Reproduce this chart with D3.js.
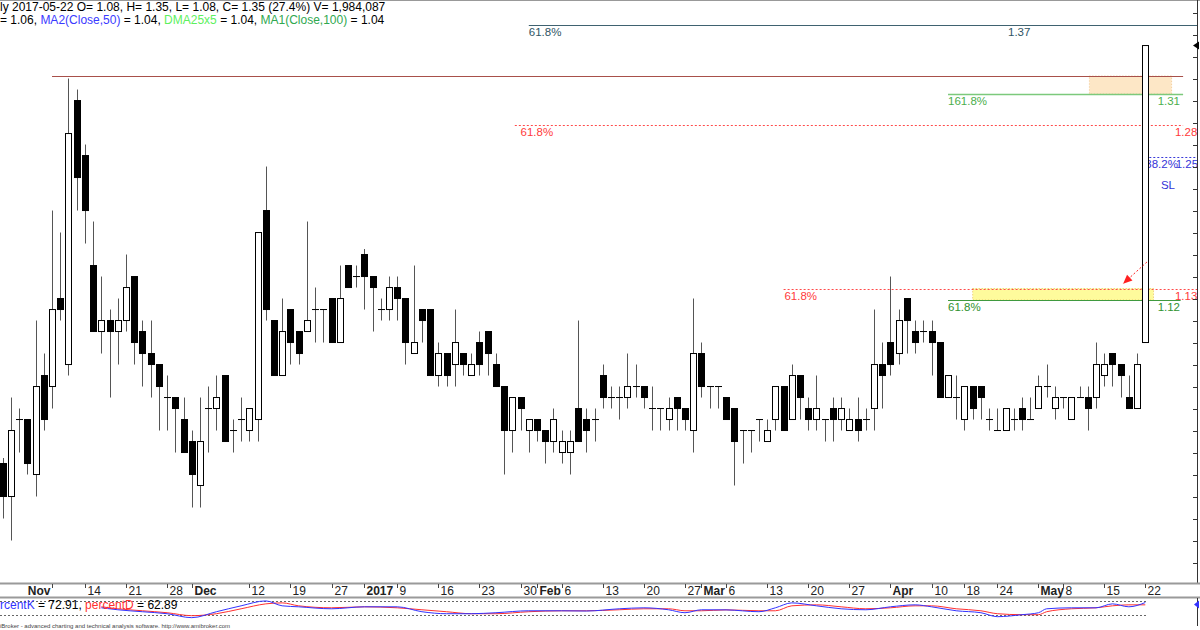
<!DOCTYPE html>
<html><head><meta charset="utf-8">
<script src="https://cdn.jsdelivr.net/npm/d3@7"></script>
<style>html,body{margin:0;padding:0;background:#fff;}svg{display:block;font-family:"Liberation Sans",Arial,sans-serif;}</style>
</head><body>
<svg id="c" width="1200" height="630"></svg>
<script>
// ---- price data (bar index 0..139) ----
const opens  = [0.97,0.94,1.01,1.01,0.96,1.05,1.04,1.12,1.06,1.30,1.25,1.15,1.09,1.10,1.09,1.10,1.14,1.09,1.07,1.06,1.03,1.03,1.01,0.99,0.95,1.02,1.02,1.05,1.00,1.01,1.00,1.01,1.20,1.10,1.05,1.11,1.09,1.09,1.11,1.11,1.12,1.08,1.15,1.14,1.16,1.14,1.11,1.11,1.13,1.12,1.07,1.11,1.11,1.05,1.07,1.06,1.07,1.05,1.08,1.09,1.06,1.04,1.00,1.03,1.00,1.01,1.00,0.99,0.98,0.98,1.02,1.01,1.01,1.05,1.03,1.03,1.03,1.04,1.04,1.02,1.02,1.01,1.03,1.02,1.00,1.07,1.04,1.04,1.03,1.02,1.00,1.00,1.01,0.99,1.01,1.04,1.01,1.05,1.02,1.01,1.01,1.02,1.01,1.00,1.01,1.01,1.02,1.06,1.08,1.07,1.12,1.09,1.09,1.09,1.08,1.03,1.03,1.01,1.04,1.04,1.01,1.00,1.00,1.01,1.02,1.01,1.02,1.04,1.02,1.03,1.01,1.03,1.03,1.03,1.05,1.07,1.06,1.03,1.02,1.08];
const highs  = [0.975,1.03,1.02,1.01,1.10,1.07,1.20,1.18,1.32,1.31,1.26,1.19,1.14,1.11,1.12,1.16,1.14,1.10,1.10,1.06,1.05,1.03,1.03,1.00,1.03,1.04,1.05,1.05,1.01,1.03,1.02,1.18,1.24,1.10,1.12,1.11,1.09,1.19,1.13,1.11,1.12,1.15,1.15,1.15,1.165,1.14,1.12,1.14,1.14,1.12,1.15,1.11,1.11,1.08,1.07,1.11,1.07,1.07,1.09,1.09,1.07,1.04,1.03,1.03,1.01,1.01,1.00,1.02,1.00,1.00,1.10,1.02,1.02,1.06,1.04,1.04,1.07,1.06,1.04,1.04,1.02,1.03,1.03,1.02,1.12,1.08,1.04,1.04,1.03,1.02,1.00,1.00,1.01,1.01,1.04,1.04,1.06,1.05,1.03,1.05,1.01,1.03,1.03,1.02,1.03,1.02,1.11,1.08,1.14,1.11,1.12,1.10,1.10,1.10,1.08,1.05,1.05,1.04,1.04,1.04,1.02,1.02,1.02,1.02,1.03,1.03,1.05,1.06,1.04,1.03,1.03,1.04,1.04,1.08,1.07,1.07,1.06,1.05,1.07,1.35];
const lows   = [0.92,0.90,0.98,0.96,0.94,1.00,1.02,1.10,1.05,1.20,1.17,1.09,1.07,1.03,1.06,1.09,1.06,1.04,1.03,1.00,1.00,0.98,0.98,0.93,0.93,0.98,1.00,0.99,0.98,0.99,0.99,0.99,1.10,1.05,1.05,1.06,1.06,1.09,1.08,1.08,1.08,1.08,1.13,1.13,1.11,1.09,1.10,1.10,1.10,1.06,1.07,1.08,1.05,1.04,1.04,1.04,1.05,1.05,1.05,1.05,1.04,0.96,0.98,1.00,0.98,0.99,0.97,0.98,0.97,0.96,0.99,0.98,0.99,1.02,1.02,1.01,1.02,1.03,1.02,1.00,1.00,1.00,1.00,1.00,0.98,1.03,1.02,1.02,1.01,0.95,0.97,0.98,0.99,0.99,1.00,1.00,1.01,1.01,1.00,1.00,0.99,0.99,1.00,1.00,0.99,1.00,1.00,1.02,1.05,1.06,1.07,1.07,1.08,1.05,1.03,1.03,1.01,1.00,1.01,1.01,1.00,1.00,1.00,1.00,1.00,1.01,1.02,1.03,1.01,1.02,1.01,1.03,1.00,1.02,1.04,1.04,1.03,1.02,1.02,1.08];
const closes = [0.94,1.00,1.01,0.97,1.04,1.01,1.11,1.11,1.27,1.23,1.20,1.09,1.10,1.09,1.10,1.13,1.08,1.07,1.06,1.04,1.03,1.02,0.98,0.96,0.99,1.02,1.03,0.99,1.00,1.01,1.02,1.18,1.11,1.05,1.09,1.08,1.07,1.10,1.11,1.11,1.08,1.12,1.13,1.14,1.14,1.13,1.11,1.13,1.12,1.08,1.08,1.10,1.05,1.07,1.05,1.08,1.06,1.06,1.06,1.07,1.04,1.00,1.03,1.02,1.01,1.00,0.99,1.01,0.99,0.99,0.99,1.00,1.01,1.03,1.03,1.03,1.04,1.04,1.03,1.02,1.02,1.02,1.02,1.01,1.07,1.04,1.04,1.04,1.01,0.99,1.00,1.00,1.01,1.00,1.04,1.00,1.05,1.03,1.01,1.02,1.01,1.01,1.02,1.01,1.00,1.01,1.06,1.05,1.06,1.10,1.10,1.08,1.09,1.08,1.03,1.05,1.03,1.04,1.02,1.03,1.01,1.00,1.02,1.01,1.01,1.01,1.04,1.04,1.03,1.03,1.03,1.03,1.02,1.06,1.06,1.06,1.05,1.02,1.06,1.35];

// ---- date axis ----
const tickIdx    = [6,10,15,20,23,30,35,40,44,48,53,58,63,65,68,73,78,83,85,88,93,98,103,108,113,117,121,126,129,134,139];
const tickLabels = ["Nov","14","21","28","Dec","12","19","27","2017","9","16","23","30","Feb","6","13","20","27","Mar","6","13","20","27","Apr","10","18","24","May","8","15","22"];
const tickBold   = ["Nov","Dec","2017","Feb","Mar","Apr","May"];

// ---- stochastic (read at selected bars) ----
const stochIdx = [12,14,17,20,23,26,29,32,34,36,40,44,48,51,54,57,60,64,68,71,75,78,81,83,85,88,92,94,96,99,102,105,108,111,113,116,119,121,124,126,127,130,133,135,137,139];
const stochK   = [50,41.4,32.9,24.3,7.1,32.9,58.6,80,58.6,54.3,45.7,54.3,54.3,32.9,24.3,24.3,28.6,37.1,37,36,45.7,50,41.4,28.6,41.4,41,32.9,50,71.4,58.6,45.7,41.4,54.3,62.9,54.3,37.1,28.6,11.4,20,28.6,45.7,50,50,67.1,54.3,72.91];
const stochD   = [54.3,45.7,37.1,28.6,15.7,24.3,45.7,67.1,71.4,58.6,50,54.3,50,41.4,32.9,24.3,24.3,32.9,37,37,41.4,45.7,45.7,37.1,37.1,41,37.1,37.1,58.6,62.9,54.3,45.7,50,58.6,58.6,45.7,37.1,24.3,20,20,32.9,45.7,50,58.6,62.9,62.89];

// ---- fibonacci / annotation levels ----
const fibLevels  = [1.3686, 1.3059, 1.2777, 1.2486, 1.1291, 1.1186];
const fibPcts    = ["61.8%","161.8%","61.8%","38.2%","61.8%","61.8%"];
const fibFrom    = [64, 115, 62.3, 139, 95, 115];
const fibTo      = [145.3, 143.6, 143.6, 145.3, 145.3, 143.3];
const fibPctAt   = [64, 115, 63, 139, 95.1, 115];
const fibValAt   = [122.3, 140.5, 142.6, 142.7, 142.6, 140.5];
const highLevel  = 1.3223, highFrom = 6, highTo = 143.6;
const zoneOrange = [1.3059, 1.3223], zoneOrangeIdx = [132.2, 142.2];
const zoneYellow = [1.1186, 1.1291], zoneYellowIdx = [118, 140];
const arrowIdx   = [139.2, 136.3], arrowPrice = [1.1532, 1.1335];
const slLabel = {idx: 140.9, price: 1.2195, text: "SL"};
const axisTicks = d3.range(0.88, 1.381, 0.02);

// ---- layout ----
const svg = d3.select("#c");
const paneBottom = 583, axisX = 1197;
const x = d3.scaleLinear().domain([0,139]).range([2.7,1145.3]);
const y = d3.scaleLinear().domain([0.8641,1.3914]).range([580,0]);
const ys = d3.scaleLinear().domain([0,100]).range([619.3,596.3]);

svg.append("defs").append("clipPath").attr("id","pane")
  .append("rect").attr("x",0).attr("y",0).attr("width",axisX).attr("height",paneBottom);
const g = svg.append("g").attr("clip-path","url(#pane)");

// top border
svg.append("line").attr("x1",0).attr("x2",1200).attr("y1",0.5).attr("y2",0.5).attr("stroke","#999");

// zones
g.append("rect").attr("x",x(zoneOrangeIdx[0])).attr("width",x(zoneOrangeIdx[1])-x(zoneOrangeIdx[0]))
  .attr("y",y(zoneOrange[1])).attr("height",y(zoneOrange[0])-y(zoneOrange[1]))
  .attr("fill","#fde7c6").attr("stroke","#f0c890").attr("stroke-dasharray","1,2");
g.append("rect").attr("x",x(zoneYellowIdx[0])).attr("width",x(zoneYellowIdx[1])-x(zoneYellowIdx[0]))
  .attr("y",y(zoneYellow[1])).attr("height",y(zoneYellow[0])-y(zoneYellow[1]))
  .attr("fill","#fefb9c").attr("stroke","#e8c060").attr("stroke-dasharray","1,2");

// level styles (by level order)
const lvColor = ["#2f5564","#4cae4c","#ff3a3a","#3434d8","#ff3a3a","#2f922f"];
const lvLine  = ["#3f6270","#7cc97c","#ff4a4a","#3a3ad8","#ff4a4a","#3f9a3f"];
const lvDash  = [null,null,"2,2","2,2","2,2",null];
const lvWidth = [1,1.5,1,1,1,1];
fibLevels.forEach((v,i)=>{
  const yy = Math.round(y(v))+0.5;
  g.append("line").attr("x1",x(fibFrom[i])).attr("x2",x(fibTo[i])).attr("y1",yy).attr("y2",yy)
    .attr("stroke",lvLine[i]).attr("stroke-width",lvWidth[i]).attr("stroke-dasharray",lvDash[i]);
  g.append("text").attr("x",x(fibPctAt[i])).attr("y",yy+10.5).attr("font-size",11.5).attr("fill",lvColor[i]).text(fibPcts[i]);
  g.append("text").attr("x",x(fibValAt[i])).attr("y",yy+10.5).attr("font-size",11.5).attr("fill",lvColor[i]).text(d3.format(".2f")(v));
});
// high line
g.append("line").attr("x1",x(highFrom)).attr("x2",x(highTo)).attr("y1",Math.round(y(highLevel))+0.5).attr("y2",Math.round(y(highLevel))+0.5)
  .attr("stroke","#a8504a").attr("stroke-width",1);
// SL
g.append("text").attr("x",x(slLabel.idx)).attr("y",y(slLabel.price)).attr("font-size",11.5).attr("fill","#3434d8").text(slLabel.text);

// candles
const bars = d3.range(opens.length).map(i=>({i,o:opens[i],h:highs[i],l:lows[i],c:closes[i]}));
const bw = 6;
g.selectAll("line.wick").data(bars).enter().append("line")
  .attr("x1",d=>Math.round(x(d.i))+0.5).attr("x2",d=>Math.round(x(d.i))+0.5)
  .attr("y1",d=>y(d.h)).attr("y2",d=>y(d.l)).attr("stroke","#555").attr("stroke-width",1);
g.selectAll("rect.body").data(bars).enter().append("rect")
  .attr("x",d=>Math.round(x(d.i))-bw/2+0.5).attr("width",bw)
  .attr("y",d=>y(Math.max(d.o,d.c))).attr("height",d=>Math.max(0.01,Math.abs(y(d.o)-y(d.c))))
  .attr("fill",d=>d.c>=d.o?"#fff":"#000").attr("stroke","#000").attr("stroke-width",1);

// arrow
const ax1=x(arrowIdx[0]), ay1=y(arrowPrice[0]), ax2=x(arrowIdx[1]), ay2=y(arrowPrice[1]);
g.append("line").attr("x1",ax1).attr("y1",ay1).attr("x2",ax2).attr("y2",ay2).attr("stroke","#ff2020").attr("stroke-dasharray","2,2");
const ang = Math.atan2(ay2-ay1, ax2-ax1), L=9, Wd=4;
const bx = ax2 - L*Math.cos(ang), by = ay2 - L*Math.sin(ang);
g.append("path").attr("d",`M${ax2},${ay2}L${bx+Wd*Math.sin(ang)},${by-Wd*Math.cos(ang)}L${bx-Wd*Math.sin(ang)},${by+Wd*Math.cos(ang)}Z`).attr("fill","#ff2020");

// right axis
svg.append("line").attr("x1",axisX+0.5).attr("x2",axisX+0.5).attr("y1",0).attr("y2",paneBottom).attr("stroke","#333");
svg.selectAll("line.rt").data(axisTicks).enter().append("line")
  .attr("x1",axisX-4).attr("x2",axisX).attr("y1",d=>Math.round(y(d))+0.5).attr("y2",d=>Math.round(y(d))+0.5).attr("stroke","#333");
// last price marker
const lp = y(closes[closes.length-1]);
svg.append("path").attr("d",`M${axisX-4},${lp}L${axisX+2},${lp-4}L${axisX+2},${lp+4}Z`).attr("fill","#000");

// date axis strip
svg.append("line").attr("x1",0).attr("x2",1200).attr("y1",583.5).attr("y2",583.5).attr("stroke","#9a9a9a").attr("stroke-width",2);
svg.append("line").attr("x1",0).attr("x2",1200).attr("y1",597.5).attr("y2",597.5).attr("stroke","#9a9a9a").attr("stroke-width",2);
tickIdx.forEach((t,k)=>{
  const tx = Math.round(x(t))+0.5;
  svg.append("line").attr("x1",tx).attr("x2",tx).attr("y1",584).attr("y2",588).attr("stroke","#444");
  const bold = tickBold.includes(tickLabels[k]);
  const first = k===0;
  svg.append("text").attr("x",first?tx-2:tx+2).attr("y",594.5).attr("font-size",12)
    .attr("text-anchor",first?"end":"start").attr("font-weight",bold?"bold":"normal").attr("fill","#222").text(tickLabels[k]);
});

// stochastic pane
[80,20].forEach(v=>{
  svg.append("line").attr("x1",0).attr("x2",x(139)+2).attr("y1",Math.round(ys(v))+0.5).attr("y2",Math.round(ys(v))+0.5)
    .attr("stroke","#666").attr("stroke-dasharray","2,2");
});
const sl = (arr)=>d3.line().x((d,i)=>x(stochIdx[i])).y(d=>ys(d)).curve(d3.curveMonotoneX)(arr);
svg.append("path").attr("d",sl(stochD)).attr("fill","none").attr("stroke","#ff3030").attr("stroke-width",1);
svg.append("path").attr("d",sl(stochK)).attr("fill","none").attr("stroke","#3333ff").attr("stroke-width",1);
svg.append("line").attr("x1",axisX+0.5).attr("x2",axisX+0.5).attr("y1",598).attr("y2",626).attr("stroke","#333");
const sk = ys(stochK[stochK.length-1]);
svg.append("path").attr("d",`M${axisX-3},${sk+2}L${axisX+2},${sk-2}L${axisX+2},${sk+6}Z`).attr("fill","#3333ff");
const st = svg.append("text").attr("x",0).attr("y",609).attr("font-size",12).attr("fill","#000");
st.append("tspan").attr("fill","#3333ff").text("rcentK");
st.append("tspan").text(" = 72.91, ");
st.append("tspan").attr("fill","#ff3030").text("percentD");
st.append("tspan").text(" = 62.89");

// footer
svg.append("text").attr("x",0).attr("y",628).attr("font-size",6).attr("fill","#444")
  .text("iBroker - advanced charting and technical analysis software. http://www.amibroker.com");

// header
svg.append("text").attr("x",0).attr("y",11).attr("font-size",12).attr("fill","#000")
  .text("ly 2017-05-22 O= 1.08, H= 1.35, L= 1.08, C= 1.35 (27.4%) V= 1,984,087");
const h2 = svg.append("text").attr("x",0).attr("y",24).attr("font-size",12).attr("fill","#000");
h2.append("tspan").text("= 1.06, ");
h2.append("tspan").attr("fill","#3a3aff").text("MA2(Close,50)");
h2.append("tspan").text(" = 1.04, ");
h2.append("tspan").attr("fill","#5ef05e").text("DMA25x5");
h2.append("tspan").text(" = 1.04, ");
h2.append("tspan").attr("fill","#2fa84f").text("MA1(Close,100)");
h2.append("tspan").text(" = 1.04");
</script>
</body></html>
